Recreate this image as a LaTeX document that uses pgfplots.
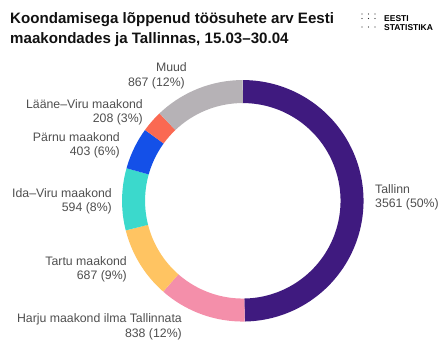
\documentclass[border=0pt]{standalone}
\usepackage{pgfplots}
\pgfplotsset{compat=1.18}
\usepgfplotslibrary{polar}
\usepackage{fontspec}
\setmainfont{Liberation Sans}
\definecolor{cTallinn}{HTML}{3F1A7F}
\definecolor{cHarju}{HTML}{F48FAA}
\definecolor{cTartu}{HTML}{FFC462}
\definecolor{cIda}{HTML}{3BD9CC}
\definecolor{cParnu}{HTML}{1450E8}
\definecolor{cLaane}{HTML}{FA6952}
\definecolor{cMuud}{HTML}{B6B2B6}
\definecolor{lab}{HTML}{4F4F4F}
\definecolor{ttl}{HTML}{111111}
% values
\def\vA{3561}% Tallinn
\def\vB{838}%  Harju maakond ilma Tallinnata
\def\vC{687}%  Tartu maakond
\def\vD{594}%  Ida-Viru maakond
\def\vE{403}%  Parnu maakond
\def\vF{208}%  Laane-Viru maakond
\def\vG{867}%  Muud
\pgfmathsetmacro\tot{\vA+\vB+\vC+\vD+\vE+\vF+\vG}
\pgfmathsetmacro\kA{90}
\pgfmathsetmacro\kB{\kA-\vA/\tot*360}
\pgfmathsetmacro\kC{\kB-\vB/\tot*360}
\pgfmathsetmacro\kD{\kC-\vC/\tot*360}
\pgfmathsetmacro\kE{\kD-\vD/\tot*360}
\pgfmathsetmacro\kF{\kE-\vE/\tot*360}
\pgfmathsetmacro\kG{\kF-\vF/\tot*360}
\pgfmathsetmacro\kH{\kG-\vG/\tot*360}
\newcommand\lf{\fontsize{12.3bp}{14.5bp}\selectfont}
\begin{document}
\begin{tikzpicture}
\begin{axis}[at={(0,0)}, anchor=south west, width=447bp, height=355bp, scale only axis,
  xmin=0, xmax=447, ymin=0, ymax=355, y dir=reverse, hide axis, clip=false]
% title
\node[anchor=base west, inner sep=0, text=ttl, font=\fontsize{15.1bp}{19bp}\selectfont\bfseries] at (axis cs:10,24) {Koondamisega lõppenud töösuhete arv Eesti};
\node[anchor=base west, inner sep=0, text=ttl, font=\fontsize{15.1bp}{19bp}\selectfont\bfseries] at (axis cs:10,43.5) {maakondades ja Tallinnas, 15.03–30.04};
% logo
\fill[black!85] (axis cs:362,14) circle[radius=0.65bp];
\fill[black!85] (axis cs:368.5,14) circle[radius=0.65bp];
\fill[black!85] (axis cs:375,14) circle[radius=0.65bp];
\fill[black!85] (axis cs:362,18.5) circle[radius=0.65bp];
\fill[black!85] (axis cs:368.5,18.5) circle[radius=0.65bp];
\fill[black!85] (axis cs:375,18.5) circle[radius=0.65bp];
\fill[black!85] (axis cs:362,27) circle[radius=0.65bp];
\fill[black!85] (axis cs:368.5,27) circle[radius=0.65bp];
\fill[black!85] (axis cs:375,27) circle[radius=0.65bp];
\node[anchor=base west, inner sep=0, font=\fontsize{8.5bp}{10bp}\selectfont\bfseries] at (axis cs:384,21.5) {EESTI};
\node[anchor=base west, inner sep=0, font=\fontsize{8.5bp}{10bp}\selectfont\bfseries] at (axis cs:384,31) {STATISTIKA};
% labels
\begin{scope}[every node/.style={inner sep=0, text=lab, font=\lf}]
\node[anchor=base east] at (axis cs:187,72) {Muud};
\node[anchor=base east] at (axis cs:185,87) {867 (12\%)};
\node[anchor=base east] at (axis cs:143,108) {Lääne–Viru maakond};
\node[anchor=base east] at (axis cs:143,122.5) {208 (3\%)};
\node[anchor=base east] at (axis cs:120,141) {Pärnu maakond};
\node[anchor=base east] at (axis cs:120,155.5) {403 (6\%)};
\node[anchor=base east] at (axis cs:112,197) {Ida–Viru maakond};
\node[anchor=base east] at (axis cs:112,211.5) {594 (8\%)};
\node[anchor=base east] at (axis cs:127,265) {Tartu maakond};
\node[anchor=base east] at (axis cs:127,279.5) {687 (9\%)};
\node[anchor=base east] at (axis cs:182,322.5) {Harju maakond ilma Tallinnata};
\node[anchor=base east] at (axis cs:182,337) {838 (12\%)};
\node[anchor=base west] at (axis cs:375,193) {Tallinn};
\node[anchor=base west] at (axis cs:375,207.5) {3561 (50\%)};
\end{scope}
\end{axis}
\begin{polaraxis}[at={(242.8bp,154.2bp)}, anchor=center, width=241.4bp, height=241.4bp,
  scale only axis, hide axis, ymin=0, ymax=1, clip=false]
\addplot[cTallinn, line width=23bp, domain=\kB:\kA, samples=150, no marks] {0.905};
\addplot[cHarju,   line width=23bp, domain=\kC:\kB, samples=60, no marks] {0.905};
\addplot[cTartu,   line width=23bp, domain=\kD:\kC, samples=60, no marks] {0.905};
\addplot[cIda,     line width=23bp, domain=\kE:\kD, samples=60, no marks] {0.905};
\addplot[cParnu,   line width=23bp, domain=\kF:\kE, samples=60, no marks] {0.905};
\addplot[cLaane,   line width=23bp, domain=\kG:\kF, samples=40, no marks] {0.905};
\addplot[cMuud,    line width=23bp, domain=\kH:\kG, samples=60, no marks] {0.905};
\end{polaraxis}
\pgfresetboundingbox
\path (0,0) rectangle (447bp,355bp);
\end{tikzpicture}
\end{document}
